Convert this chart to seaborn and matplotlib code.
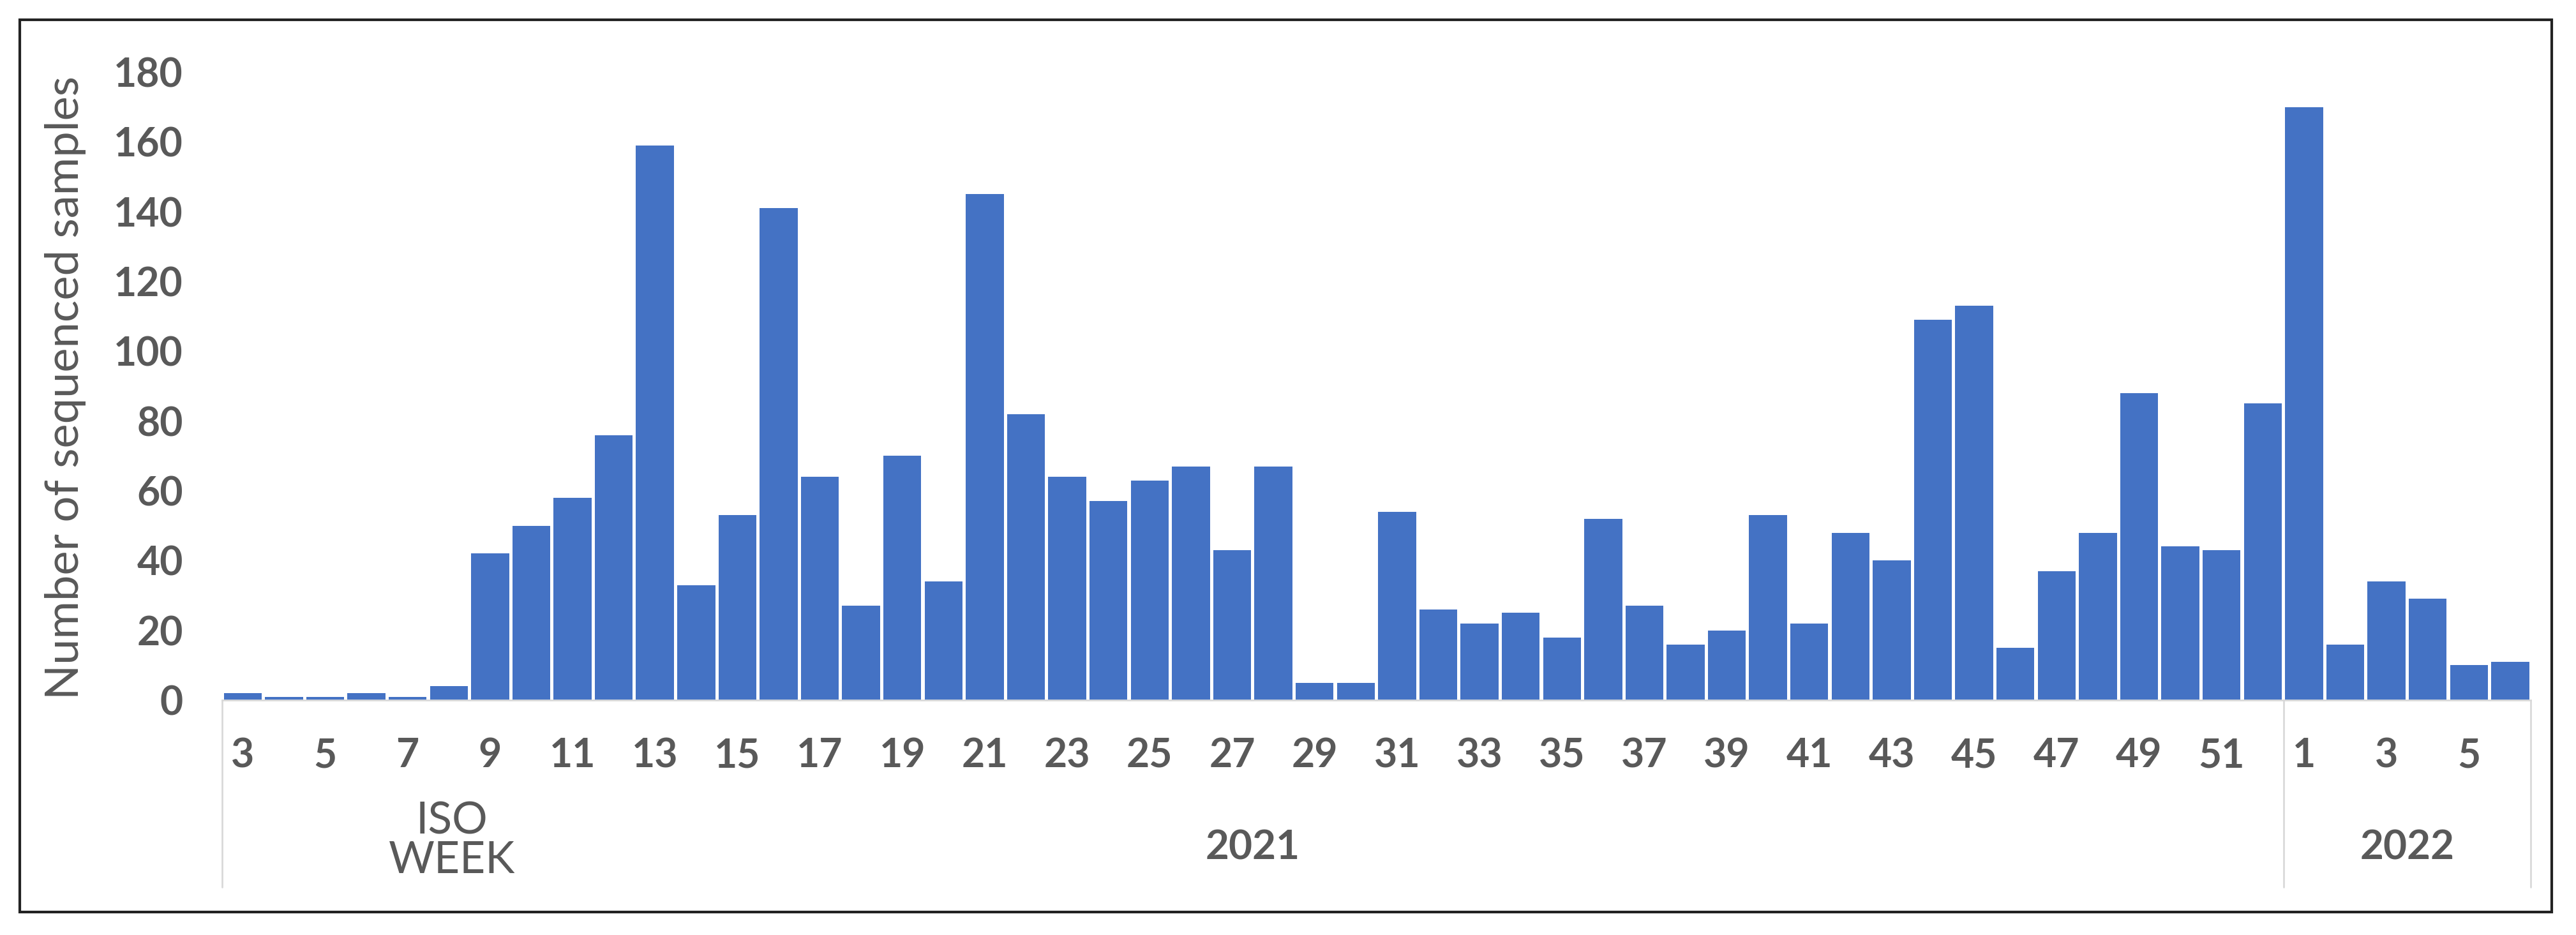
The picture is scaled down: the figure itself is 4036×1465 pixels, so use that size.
import matplotlib
matplotlib.use("Agg")
import matplotlib.pyplot as plt
import matplotlib.transforms as mtransforms
from matplotlib.patches import Rectangle
import pandas as pd
import seaborn as sns


weeks_2021 = list(range(3, 53))
counts_2021 = [2, 1, 1, 2, 1, 4, 42, 50, 58, 76, 159, 33, 53, 141, 64, 27, 70, 34,
               145, 82, 64, 57, 63, 67, 43, 67, 5, 5, 54, 26, 22, 25, 18, 52, 27,
               16, 20, 53, 22, 48, 40, 109, 113, 15, 37, 48, 88, 44, 43, 85]
weeks_2022 = [1, 2, 3, 4, 5, 6]
counts_2022 = [170, 16, 34, 29, 10, 11]
years = ["2021", "2022"]
y_ticks = [0, 20, 40, 60, 80, 100, 120, 140, 160, 180]

sns.set_theme(style="white")
plt.rcParams["font.family"] = ["Lato", "DejaVu Sans"]

TEXT = "#595959"
BLUE = "#4472C4"
GRID = "#D9D9D9"

df = pd.DataFrame({
    "year": [years[0]] * len(weeks_2021) + [years[1]] * len(weeks_2022),
    "week": weeks_2021 + weeks_2022,
    "count": counts_2021 + counts_2022,
})
df["key"] = df["year"] + "-" + df["week"].astype(str)

fig = plt.figure(figsize=(40.37, 14.65), dpi=100)
ax = fig.add_axes([0.0862, 0.2512, 0.8960, 0.6717])

sns.barplot(data=df, x="key", y="count", color=BLUE, saturation=1,
            width=0.92, linewidth=0, ax=ax)

ax.set_ylim(0, 180)
ax.set_xlim(-0.5, len(df) - 0.5)
ax.set_yticks(y_ticks)
ax.set_yticklabels([str(v) for v in y_ticks])

# every other week gets a label, as in the spreadsheet chart
pos = list(range(0, len(df), 2))
ax.set_xticks(pos)
ax.set_xticklabels([str(df["week"].iloc[i]) for i in pos])
ax.tick_params(axis="both", length=0, labelsize=45, colors=TEXT)
ax.tick_params(axis="x", pad=42)
ax.tick_params(axis="y", pad=44)
for lab in ax.get_xticklabels() + ax.get_yticklabels():
    lab.set_fontweight("bold")

ax.set_xlabel("")
ax.set_ylabel("")
for side in ["top", "right", "left"]:
    ax.spines[side].set_visible(False)
ax.spines["bottom"].set_color(GRID)
ax.spines["bottom"].set_linewidth(2)

# group separators below the axis
trans = mtransforms.blended_transform_factory(ax.transData, ax.transAxes)
n21 = len(weeks_2021)
for xs in [-0.5, n21 - 0.5, len(df) - 0.5]:
    ax.plot([xs, xs], [0, -0.298], transform=trans, color=GRID, lw=2,
            clip_on=False)

ax.text(5.07, -0.193, "ISO", transform=trans, ha="center", va="center",
        fontsize=50, color=TEXT)
ax.text(5.07, -0.256, "WEEK", transform=trans, ha="center", va="center",
        fontsize=50, color=TEXT)
ax.text((n21 - 1) / 2, -0.235, years[0], transform=trans, ha="center",
        va="center", fontsize=46, fontweight="bold", color=TEXT)
ax.text(n21 + (len(weeks_2022) - 1) / 2, -0.235, years[1], transform=trans,
        ha="center", va="center", fontsize=46, fontweight="bold", color=TEXT)

fig.text(0.0255, 0.585, "Number of sequenced samples", rotation=90,
         ha="center", va="center", fontsize=52, color=TEXT)

fig.patches.append(Rectangle((0.0077, 0.0246), 0.9826, 0.9542,
                             transform=fig.transFigure, fill=False,
                             edgecolor="#222222", linewidth=3))

fig.savefig("out.png", dpi=100, facecolor="white")
